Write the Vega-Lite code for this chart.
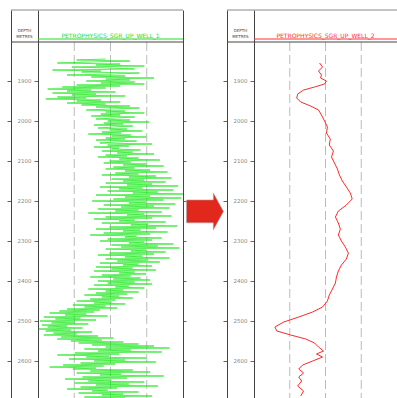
{
  "$schema": "https://vega.github.io/schema/vega-lite/v6.json",
  "padding": {"left": 6, "top": 9, "right": 0, "bottom": 0},
  "bounds": "flush",
  "spacing": 0,
  "config": {
    "view": {"stroke": null},
    "axis": {"domainWidth": 1, "tickWidth": 1, "domainColor": "#444", "tickColor": "#666", "labels": false, "title": null, "grid": false}
  },
  "datasets": {
    "ticks": [{"depth": 1900}, {"depth": 2000}, {"depth": 2100}, {"depth": 2200}, {"depth": 2300}, {"depth": 2400}, {"depth": 2500}, {"depth": 2600}],
    "grid": [{"g": 37.5}, {"g": 75}, {"g": 112.5}],
    "hdr": [{"h": "DEPTH\nMETRES"}],
    "t1": [{"t": "PETROPHYSICS_SGR_UP_WELL_1"}],
    "t2": [{"t": "PETROPHYSICS_SGR_UP_WELL_2"}],
    "arrow": [{"name": "arrow"}],
    "green": [
      {"d":1845,"v":70},{"d":1847.5,"v":40},{"d":1850,"v":95},{"d":1852.5,"v":55},{"d":1855,"v":20},{"d":1857.5,"v":85},{"d":1860,"v":60},{"d":1862.5,"v":110},{"d":1865,"v":35},{"d":1867.5,"v":75},
      {"d":1870,"v":100},{"d":1872.5,"v":15},{"d":1875,"v":65},{"d":1877.5,"v":45},{"d":1880,"v":105},{"d":1882.5,"v":80},{"d":1885,"v":30},{"d":1887.5,"v":90},{"d":1890,"v":55},{"d":1892.5,"v":120},
      {"d":1895,"v":70},{"d":1897.5,"v":95},{"d":1900,"v":50},{"d":1902.5,"v":100},{"d":1905,"v":65},{"d":1907.5,"v":110},{"d":1910,"v":40},{"d":1912.5,"v":85},{"d":1915,"v":25},{"d":1917.5,"v":70},
      {"d":1920,"v":10},{"d":1922.5,"v":55},{"d":1925,"v":30},{"d":1927.5,"v":80},{"d":1930,"v":15},{"d":1932.5,"v":60},{"d":1935,"v":35},{"d":1937.5,"v":90},{"d":1940,"v":20},{"d":1942.5,"v":50},
      {"d":1945,"v":8},{"d":1947.5,"v":65},{"d":1950,"v":40},{"d":1952.5,"v":85},{"d":1955,"v":30},{"d":1957.5,"v":70},{"d":1960,"v":45},{"d":1962.5,"v":95},{"d":1965,"v":60},{"d":1967.5,"v":105},
      {"d":1970,"v":75},{"d":1972.5,"v":50},{"d":1975,"v":90},{"d":1977.5,"v":70},{"d":1980,"v":110},{"d":1982.5,"v":65},{"d":1985,"v":85},{"d":1987.5,"v":55},{"d":1990,"v":100},{"d":1992.5,"v":80},
      {"d":1995,"v":60},{"d":1997.5,"v":95},{"d":2000,"v":72},{"d":2002.5,"v":115},{"d":2005,"v":68},{"d":2007.5,"v":88},{"d":2010,"v":58},{"d":2012.5,"v":98},{"d":2015,"v":78},{"d":2017.5,"v":62},
      {"d":2020,"v":92},{"d":2022.5,"v":74},{"d":2025,"v":108},{"d":2027.5,"v":66},{"d":2030,"v":86},{"d":2032.5,"v":52},{"d":2035,"v":96},{"d":2037.5,"v":76},{"d":2040,"v":112},{"d":2042.5,"v":70},
      {"d":2045,"v":90},{"d":2047.5,"v":60},{"d":2050,"v":102},{"d":2052.5,"v":80},{"d":2055,"v":64},{"d":2057.5,"v":118},{"d":2060,"v":72},{"d":2062.5,"v":94},{"d":2065,"v":58},{"d":2067.5,"v":84},
      {"d":2070,"v":76},{"d":2072.5,"v":106},{"d":2075,"v":66},{"d":2077.5,"v":98},{"d":2080,"v":82},{"d":2082.5,"v":120},{"d":2085,"v":70},{"d":2087.5,"v":92},{"d":2090,"v":62},{"d":2092.5,"v":104},
      {"d":2095,"v":84},{"d":2097.5,"v":126},{"d":2100,"v":74},{"d":2102.5,"v":96},{"d":2105,"v":68},{"d":2107.5,"v":112},{"d":2110,"v":88},{"d":2112.5,"v":130},{"d":2115,"v":78},{"d":2117.5,"v":100},
      {"d":2120,"v":70},{"d":2122.5,"v":116},{"d":2125,"v":90},{"d":2127.5,"v":134},{"d":2130,"v":80},{"d":2132.5,"v":104},{"d":2135,"v":66},{"d":2137.5,"v":122},{"d":2140,"v":94},{"d":2142.5,"v":138},
      {"d":2145,"v":76},{"d":2147.5,"v":110},{"d":2150,"v":88},{"d":2152.5,"v":132},{"d":2155,"v":70},{"d":2157.5,"v":118},{"d":2160,"v":92},{"d":2162.5,"v":145},{"d":2165,"v":64},{"d":2167.5,"v":108},
      {"d":2170,"v":84},{"d":2172.5,"v":140},{"d":2175,"v":72},{"d":2177.5,"v":124},{"d":2180,"v":98},{"d":2182.5,"v":150},{"d":2185,"v":60},{"d":2187.5,"v":116},{"d":2190,"v":90},{"d":2192.5,"v":148},
      {"d":2195,"v":78},{"d":2197.5,"v":130},{"d":2200,"v":56},{"d":2202.5,"v":112},{"d":2205,"v":94},{"d":2207.5,"v":142},{"d":2210,"v":68},{"d":2212.5,"v":120},{"d":2215,"v":86},{"d":2217.5,"v":136},
      {"d":2220,"v":62},{"d":2222.5,"v":104},{"d":2225,"v":80},{"d":2227.5,"v":128},{"d":2230,"v":52},{"d":2232.5,"v":110},{"d":2235,"v":92},{"d":2237.5,"v":138},{"d":2240,"v":70},{"d":2242.5,"v":118},
      {"d":2245,"v":58},{"d":2247.5,"v":100},{"d":2250,"v":84},{"d":2252.5,"v":132},{"d":2255,"v":66},{"d":2257.5,"v":114},{"d":2260,"v":96},{"d":2262.5,"v":144},{"d":2265,"v":74},{"d":2267.5,"v":122},
      {"d":2270,"v":60},{"d":2272.5,"v":106},{"d":2275,"v":88},{"d":2277.5,"v":134},{"d":2280,"v":68},{"d":2282.5,"v":116},{"d":2285,"v":54},{"d":2287.5,"v":102},{"d":2290,"v":90},{"d":2292.5,"v":128},
      {"d":2295,"v":72},{"d":2297.5,"v":118},{"d":2300,"v":64},{"d":2302.5,"v":110},{"d":2305,"v":94},{"d":2307.5,"v":140},{"d":2310,"v":76},{"d":2312.5,"v":124},{"d":2315,"v":86},{"d":2317.5,"v":146},
      {"d":2320,"v":70},{"d":2322.5,"v":112},{"d":2325,"v":96},{"d":2327.5,"v":132},{"d":2330,"v":74},{"d":2332.5,"v":120},{"d":2335,"v":62},{"d":2337.5,"v":108},{"d":2340,"v":90},{"d":2342.5,"v":136},
      {"d":2345,"v":70},{"d":2347.5,"v":114},{"d":2350,"v":82},{"d":2352.5,"v":126},{"d":2355,"v":64},{"d":2357.5,"v":104},{"d":2360,"v":88},{"d":2362.5,"v":118},{"d":2365,"v":60},{"d":2367.5,"v":98},
      {"d":2370,"v":76},{"d":2372.5,"v":122},{"d":2375,"v":58},{"d":2377.5,"v":100},{"d":2380,"v":84},{"d":2382.5,"v":112},{"d":2385,"v":66},{"d":2387.5,"v":96},{"d":2390,"v":54},{"d":2392.5,"v":106},
      {"d":2395,"v":78},{"d":2397.5,"v":116},{"d":2400,"v":62},{"d":2402.5,"v":100},{"d":2405,"v":72},{"d":2407.5,"v":118},{"d":2410,"v":58},{"d":2412.5,"v":94},{"d":2415,"v":80},{"d":2417.5,"v":110},
      {"d":2420,"v":52},{"d":2422.5,"v":88},{"d":2425,"v":70},{"d":2427.5,"v":104},{"d":2430,"v":60},{"d":2432.5,"v":92},{"d":2435,"v":48},{"d":2437.5,"v":84},{"d":2440,"v":66},{"d":2442.5,"v":98},
      {"d":2445,"v":54},{"d":2447.5,"v":80},{"d":2450,"v":40},{"d":2452.5,"v":76},{"d":2455,"v":58},{"d":2457.5,"v":90},{"d":2460,"v":36},{"d":2462.5,"v":70},{"d":2465,"v":48},{"d":2467.5,"v":82},
      {"d":2470,"v":30},{"d":2472.5,"v":64},{"d":2475,"v":22},{"d":2477.5,"v":58},{"d":2480,"v":12},{"d":2482.5,"v":50},{"d":2485,"v":28},{"d":2487.5,"v":72},{"d":2490,"v":6},{"d":2492.5,"v":44},
      {"d":2495,"v":18},{"d":2497.5,"v":60},{"d":2500,"v":2},{"d":2502.5,"v":38},{"d":2505,"v":14},{"d":2507.5,"v":52},{"d":2510,"v":4},{"d":2512.5,"v":30},{"d":2515,"v":10},{"d":2517.5,"v":46},
      {"d":2520,"v":1},{"d":2522.5,"v":34},{"d":2525,"v":8},{"d":2527.5,"v":56},{"d":2530,"v":16},{"d":2532.5,"v":40},{"d":2535,"v":6},{"d":2537.5,"v":62},{"d":2540,"v":24},{"d":2542.5,"v":78},
      {"d":2545,"v":20},{"d":2547.5,"v":66},{"d":2550,"v":34},{"d":2552.5,"v":88},{"d":2555,"v":42},{"d":2557.5,"v":104},{"d":2560,"v":56},{"d":2562.5,"v":120},{"d":2565,"v":70},{"d":2567.5,"v":136},
      {"d":2570,"v":48},{"d":2572.5,"v":96},{"d":2575,"v":62},{"d":2577.5,"v":128},{"d":2580,"v":38},{"d":2582.5,"v":84},{"d":2585,"v":20},{"d":2587.5,"v":74},{"d":2590,"v":50},{"d":2592.5,"v":112},
      {"d":2595,"v":32},{"d":2597.5,"v":90},{"d":2600,"v":58},{"d":2602.5,"v":122},{"d":2605,"v":44},{"d":2607.5,"v":80},{"d":2610,"v":26},{"d":2612.5,"v":68},{"d":2615,"v":12},{"d":2617.5,"v":60},
      {"d":2620,"v":36},{"d":2622.5,"v":98},{"d":2625,"v":54},{"d":2627.5,"v":116},{"d":2630,"v":40},{"d":2632.5,"v":86},{"d":2635,"v":64},{"d":2637.5,"v":130},{"d":2640,"v":46},{"d":2642.5,"v":92},
      {"d":2645,"v":28},{"d":2647.5,"v":76},{"d":2650,"v":52},{"d":2652.5,"v":110},{"d":2655,"v":38},{"d":2657.5,"v":94},{"d":2660,"v":60},{"d":2662.5,"v":124},{"d":2665,"v":44},{"d":2667.5,"v":82},
      {"d":2670,"v":30},{"d":2672.5,"v":72},{"d":2675,"v":56},{"d":2677.5,"v":104},{"d":2680,"v":42},{"d":2682.5,"v":88},{"d":2685,"v":66},{"d":2687.5,"v":118},{"d":2690,"v":48},{"d":2692.5,"v":90},
      {"d":2695,"v":60}
    ],
    "red": [
      {"d":1855,"v":68.8},{"d":1865,"v":71.9},{"d":1875,"v":67.7},{"d":1885,"v":70.8},{"d":1892.5,"v":69.8},{"d":1900,"v":76},{"d":1907.5,"v":74},{"d":1915,"v":63.5},{"d":1922.5,"v":52},{"d":1932.5,"v":45.8},
      {"d":1942.5,"v":44.8},{"d":1952.5,"v":49},{"d":1962.5,"v":59.4},{"d":1972.5,"v":67.7},{"d":1985,"v":70.8},{"d":2000,"v":74},{"d":2015,"v":77},{"d":2030,"v":76},{"d":2045,"v":80},{"d":2060,"v":79},
      {"d":2075,"v":83.3},{"d":2090,"v":81.3},{"d":2105,"v":84.4},{"d":2120,"v":87.5},{"d":2135,"v":89.6},{"d":2150,"v":92.7},{"d":2165,"v":96.9},{"d":2180,"v":101},{"d":2195,"v":103},{"d":2210,"v":96.9},
      {"d":2225,"v":88.5},{"d":2240,"v":85.4},{"d":2255,"v":88.5},{"d":2270,"v":90.6},{"d":2285,"v":88.5},{"d":2300,"v":91.7},{"d":2315,"v":95.8},{"d":2330,"v":99},{"d":2345,"v":96.9},{"d":2360,"v":91.7},
      {"d":2375,"v":88.5},{"d":2390,"v":86.5},{"d":2405,"v":85.4},{"d":2420,"v":82.3},{"d":2435,"v":79},{"d":2450,"v":77},{"d":2465,"v":71.9},{"d":2477.5,"v":61.5},{"d":2490,"v":46.9},{"d":2502.5,"v":31.3},
      {"d":2515,"v":21.9},{"d":2525,"v":24},{"d":2535,"v":38.5},{"d":2545,"v":54.2},{"d":2555,"v":63.5},{"d":2565,"v":67.7},{"d":2575,"v":72.9},{"d":2582.5,"v":65.6},{"d":2590,"v":71.9},{"d":2600,"v":61.5},
      {"d":2610,"v":51},{"d":2620,"v":46.9},{"d":2630,"v":52},{"d":2640,"v":46.9},{"d":2650,"v":50},{"d":2662.5,"v":45.8},{"d":2675,"v":52},{"d":2687.5,"v":49}
    ]
  },
  "hconcat": [
    {
      "width": 27, "height": 389,
      "resolve": {"axis": {"y": "independent"}},
      "layer": [
        {"data": {"name": "ticks"},
         "mark": {"type": "text", "fontSize": 5.5, "color": "#888", "baseline": "middle", "font": "DejaVu Sans"},
         "encoding": {
           "y": {"field": "depth", "type": "quantitative", "scale": {"domain": [1722.5, 2695], "reverse": true, "nice": false, "zero": false},
                 "axis": {"orient": "left", "values": [1900,2000,2100,2200,2300,2400,2500,2600], "tickSize": 4}},
           "text": {"field": "depth", "type": "quantitative", "format": "d"}}},
        {"data": {"name": "hdr"},
         "mark": {"type": "text", "fontSize": 4, "color": "#444", "lineBreak": "\n", "baseline": "middle", "font": "DejaVu Sans"},
         "encoding": {"y": {"datum": 1776, "type": "quantitative", "axis": null}, "text": {"field": "h"}}},
        {"data": {"name": "hdr"}, "mark": {"type": "rule", "color": "#888", "strokeWidth": 1},
         "encoding": {"y": {"datum": 1722.5, "type": "quantitative", "axis": null}}},
        {"data": {"name": "hdr"}, "mark": {"type": "rule", "color": "#444", "strokeWidth": 1},
         "encoding": {"y": {"datum": 1802.5, "type": "quantitative", "axis": null}}}
      ]
    },
    {
      "width": 145, "height": 389,
      "resolve": {"axis": {"y": "independent"}},
      "layer": [
        {"data": {"name": "grid"}, "mark": {"type": "rule", "color": "#bbb", "strokeDash": [9, 4], "strokeWidth": 1},
         "encoding": {
           "x": {"field": "g", "type": "quantitative", "scale": {"domain": [0, 150], "nice": false, "zero": false}, "axis": null},
           "y": {"datum": 1802.5, "type": "quantitative", "scale": {"domain": [1722.5, 2695], "reverse": true, "nice": false, "zero": false},
                 "axis": {"orient": "left", "values": [1900,2000,2100,2200,2300,2400,2500,2600], "tickSize": 4}},
           "y2": {"datum": 2695}}},
        {"data": {"name": "green"}, "mark": {"type": "line", "color": "#14e614", "strokeWidth": 0.7, "clip": true},
         "encoding": {
           "x": {"field": "v", "type": "quantitative", "axis": null},
           "y": {"field": "d", "type": "quantitative", "axis": null},
           "order": {"field": "d", "type": "quantitative"}}},
        {"data": {"name": "t1"}, "mark": {"type": "rule", "color": "#888", "strokeWidth": 1},
         "encoding": {"y": {"datum": 1722.5, "type": "quantitative", "axis": null}}},
        {"data": {"name": "t1"}, "mark": {"type": "rule", "color": "#444", "strokeWidth": 1},
         "encoding": {"y": {"datum": 1802.5, "type": "quantitative",
                            "axis": {"orient": "right", "values": [1900,2000,2100,2200,2300,2400,2500,2600], "tickSize": 3}}}},
        {"data": {"name": "t1"}, "mark": {"type": "rule", "color": "#22dd22", "strokeWidth": 1},
         "encoding": {"x": {"datum": 0, "type": "quantitative", "axis": null}, "x2": {"datum": 150},
                      "y": {"datum": 1795, "type": "quantitative", "axis": null}}},
        {"data": {"name": "t1"}, "mark": {"type": "text", "fontSize": 6, "color": "#22dd22", "baseline": "alphabetic", "font": "DejaVu Sans"},
         "encoding": {"x": {"datum": 75, "type": "quantitative", "axis": null},
                      "y": {"datum": 1792, "type": "quantitative", "axis": null}, "text": {"field": "t"}}}
      ]
    },
    {
      "width": 44, "height": 389, "data": {"name": "arrow"},
      "mark": {"type": "point", "shape": "M-1,-0.62L0.45,-0.62L0.45,-1L1,0L0.45,1L0.45,0.62L-1,0.62Z", "size": 1369, "filled": true, "fill": "#e2281c", "stroke": "#aaa", "strokeWidth": 0.6, "opacity": 1},
      "encoding": {
        "y": {"datum": 2226, "type": "quantitative", "scale": {"domain": [1722.5, 2695], "reverse": true, "nice": false, "zero": false}, "axis": null}}
    },
    {
      "width": 27, "height": 389,
      "resolve": {"axis": {"y": "independent"}},
      "layer": [
        {"data": {"name": "ticks"},
         "mark": {"type": "text", "fontSize": 5.5, "color": "#888", "baseline": "middle", "font": "DejaVu Sans"},
         "encoding": {
           "y": {"field": "depth", "type": "quantitative", "scale": {"domain": [1722.5, 2695], "reverse": true, "nice": false, "zero": false},
                 "axis": {"orient": "left", "values": [1900,2000,2100,2200,2300,2400,2500,2600], "tickSize": 4}},
           "text": {"field": "depth", "type": "quantitative", "format": "d"}}},
        {"data": {"name": "hdr"},
         "mark": {"type": "text", "fontSize": 4, "color": "#444", "lineBreak": "\n", "baseline": "middle", "font": "DejaVu Sans"},
         "encoding": {"y": {"datum": 1776, "type": "quantitative", "axis": null}, "text": {"field": "h"}}},
        {"data": {"name": "hdr"}, "mark": {"type": "rule", "color": "#888", "strokeWidth": 1},
         "encoding": {"y": {"datum": 1722.5, "type": "quantitative", "axis": null}}},
        {"data": {"name": "hdr"}, "mark": {"type": "rule", "color": "#444", "strokeWidth": 1},
         "encoding": {"y": {"datum": 1802.5, "type": "quantitative", "axis": null}}}
      ]
    },
    {
      "width": 143, "height": 389,
      "resolve": {"axis": {"y": "independent"}},
      "layer": [
        {"data": {"name": "grid"}, "mark": {"type": "rule", "color": "#bbb", "strokeDash": [9, 4], "strokeWidth": 1},
         "encoding": {
           "x": {"field": "g", "type": "quantitative", "scale": {"domain": [0, 150], "nice": false, "zero": false}, "axis": null},
           "y": {"datum": 1802.5, "type": "quantitative", "scale": {"domain": [1722.5, 2695], "reverse": true, "nice": false, "zero": false},
                 "axis": {"orient": "left", "values": [1900,2000,2100,2200,2300,2400,2500,2600], "tickSize": 4}},
           "y2": {"datum": 2695}}},
        {"data": {"name": "red"}, "mark": {"type": "line", "color": "#ff2a2a", "strokeWidth": 1, "clip": true},
         "encoding": {
           "x": {"field": "v", "type": "quantitative", "axis": null},
           "y": {"field": "d", "type": "quantitative", "axis": null},
           "order": {"field": "d", "type": "quantitative"}}},
        {"data": {"name": "t2"}, "mark": {"type": "rule", "color": "#888", "strokeWidth": 1},
         "encoding": {"y": {"datum": 1722.5, "type": "quantitative", "axis": null}}},
        {"data": {"name": "t2"}, "mark": {"type": "rule", "color": "#444", "strokeWidth": 1},
         "encoding": {"y": {"datum": 1802.5, "type": "quantitative",
                            "axis": {"orient": "right", "ticks": false}}}},
        {"data": {"name": "t2"}, "mark": {"type": "rule", "color": "#ff3030", "strokeWidth": 1},
         "encoding": {"x": {"datum": 0, "type": "quantitative", "axis": null}, "x2": {"datum": 150},
                      "y": {"datum": 1795, "type": "quantitative", "axis": null}}},
        {"data": {"name": "t2"}, "mark": {"type": "text", "fontSize": 6, "color": "#ff3030", "baseline": "alphabetic", "font": "DejaVu Sans"},
         "encoding": {"x": {"datum": 75, "type": "quantitative", "axis": null},
                      "y": {"datum": 1792, "type": "quantitative", "axis": null}, "text": {"field": "t"}}}
      ]
    }
  ]
}
